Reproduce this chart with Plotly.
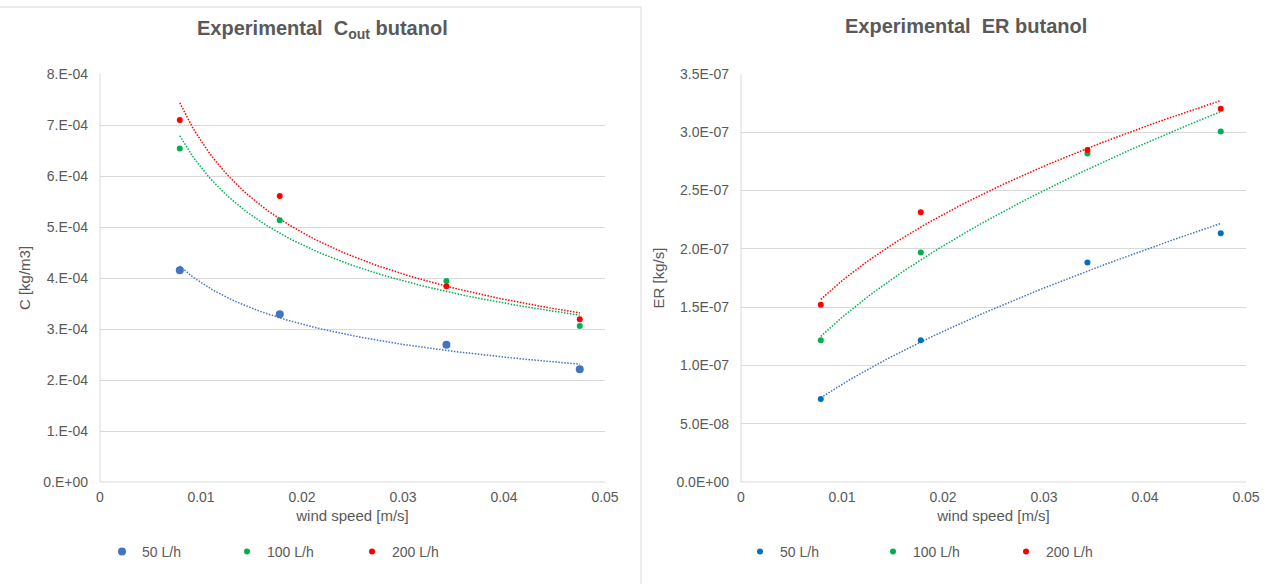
import numpy as np
import plotly.graph_objects as go

W, H = 1274, 584

wind = [0.0079, 0.0178, 0.0343, 0.0475]
series = ["50 L/h", "100 L/h", "200 L/h"]
c_50 = [4.15e-4, 3.29e-4, 2.69e-4, 2.21e-4]
c_100 = [6.54e-4, 5.13e-4, 3.94e-4, 3.06e-4]
c_200 = [7.10e-4, 5.61e-4, 3.84e-4, 3.19e-4]
er_50 = [0.713e-7, 1.216e-7, 1.884e-7, 2.134e-7]
er_100 = [1.216e-7, 1.969e-7, 2.818e-7, 3.006e-7]
er_200 = [1.520e-7, 2.315e-7, 2.849e-7, 3.202e-7]

x_ticks = [0, 0.01, 0.02, 0.03, 0.04, 0.05]
x_ticktext = ["0", "0.01", "0.02", "0.03", "0.04", "0.05"]
c_ticks = [0, 1e-4, 2e-4, 3e-4, 4e-4, 5e-4, 6e-4, 7e-4, 8e-4]
c_ticktext = ["0.E+00", "1.E-04", "2.E-04", "3.E-04", "4.E-04", "5.E-04", "6.E-04", "7.E-04", "8.E-04"]
er_ticks = [0, 0.5e-7, 1e-7, 1.5e-7, 2e-7, 2.5e-7, 3e-7, 3.5e-7]
er_ticktext = ["0.0E+00", "5.0E-08", "1.0E-07", "1.5E-07", "2.0E-07", "2.5E-07", "3.0E-07", "3.5E-07"]

FONT = "Liberation Sans, Arial, sans-serif"
GRAY = "#595959"
GRID = "#d9d9d9"

left_colors = ["#4472C4", "#00B050", "#FF0000"]
right_colors = ["#0070C0", "#00B050", "#FF0000"]
left_sizes = [8, 6, 6]
right_sizes = [6, 6, 6]
DOT = "1.5px,1.5px"


def power_fit(x, y):
    x = np.asarray(x, float)
    y = np.asarray(y, float)
    b, a = np.polyfit(np.log(x), np.log(y), 1)
    xs = np.linspace(x.min(), x.max(), 100)
    return xs, np.exp(a) * xs ** b


fig = go.Figure()

# Left chart
for name, ys, col in zip(series, [c_50, c_100, c_200], left_colors):
    xs, ys_fit = power_fit(wind, ys)
    fig.add_trace(go.Scatter(x=xs, y=ys_fit, mode="lines", line=dict(color=col, width=1.5, dash=DOT),
                             showlegend=False, hoverinfo="skip", xaxis="x", yaxis="y"))
for name, ys, col, sz in zip(series, [c_50, c_100, c_200], left_colors, left_sizes):
    fig.add_trace(go.Scatter(x=wind, y=ys, mode="markers", name=name,
                             marker=dict(color=col, size=sz), xaxis="x", yaxis="y", legend="legend"))

# Right chart
for name, ys, col in zip(series, [er_50, er_100, er_200], right_colors):
    tcol = "#4472C4" if col == "#0070C0" else col
    xs, ys_fit = power_fit(wind, ys)
    fig.add_trace(go.Scatter(x=xs, y=ys_fit, mode="lines", line=dict(color=tcol, width=1.5, dash=DOT),
                             showlegend=False, hoverinfo="skip", xaxis="x2", yaxis="y2"))
for name, ys, col, sz in zip(series, [er_50, er_100, er_200], right_colors, right_sizes):
    fig.add_trace(go.Scatter(x=wind, y=ys, mode="markers", name=name,
                             marker=dict(color=col, size=sz), xaxis="x2", yaxis="y2", legend="legend2"))


def px_x(p):
    return p / W


def px_y(p):
    return 1 - p / H


tick_font = dict(family=FONT, size=14, color=GRAY)
title_font = dict(family=FONT, size=15, color=GRAY)
xcommon = dict(showline=False, zeroline=False, ticks="", automargin=False, tickfont=tick_font,
               range=[0, 0.05], tickvals=x_ticks, ticktext=x_ticktext, showgrid=False,
               ticklabelstandoff=5)
ycommon = dict(showline=False, zeroline=False, ticks="", automargin=False, tickfont=tick_font,
               showgrid=True, gridcolor=GRID, gridwidth=1, ticklabelstandoff=11)

fig.update_layout(
    width=W, height=H,
    margin=dict(l=0, r=0, t=0, b=0, autoexpand=False),
    paper_bgcolor="white", plot_bgcolor="white",
    font=dict(family=FONT, color=GRAY),
    xaxis=dict(domain=[px_x(100), px_x(605)], anchor="y",
               title=dict(text="wind speed [m/s]", font=title_font, standoff=6), **xcommon),
    yaxis=dict(domain=[px_y(482), px_y(74)], range=[0, 8e-4], tickvals=c_ticks, ticktext=c_ticktext,
               anchor="x", title=dict(text="C [kg/m3]", font=title_font, standoff=8), **ycommon),
    xaxis2=dict(domain=[px_x(741), px_x(1246)], anchor="y2",
                title=dict(text="wind speed [m/s]", font=title_font, standoff=6), **xcommon),
    yaxis2=dict(domain=[px_y(482), px_y(74)], range=[0, 3.5e-7], tickvals=er_ticks, ticktext=er_ticktext,
                anchor="x2", title=dict(text="ER [kg/s]", font=title_font, standoff=8), **ycommon),
    legend=dict(orientation="h", x=px_x(102), xanchor="left", y=px_y(552), yanchor="middle",
                font=dict(family=FONT, size=14, color=GRAY), entrywidth=80, itemwidth=30,
                bgcolor="rgba(0,0,0,0)"),
    legend2=dict(orientation="h", x=px_x(740), xanchor="left", y=px_y(552), yanchor="middle",
                 font=dict(family=FONT, size=14, color=GRAY), entrywidth=88, itemwidth=30,
                 bgcolor="rgba(0,0,0,0)"),
    annotations=[
        dict(text="<b>Experimental&nbsp; C<sub>out</sub> butanol</b>", x=px_x(322), y=px_y(30),
             xref="paper", yref="paper", showarrow=False, font=dict(family=FONT, size=20, color=GRAY),
             xanchor="center", yanchor="middle"),
        dict(text="<b>Experimental&nbsp; ER butanol</b>", x=px_x(966), y=px_y(26), xref="paper", yref="paper",
             showarrow=False, font=dict(family=FONT, size=20, color=GRAY), xanchor="center", yanchor="middle"),
    ],
    shapes=[
        dict(type="line", xref="paper", yref="paper", x0=px_x(100), x1=px_x(100), y0=px_y(482), y1=px_y(74),
             line=dict(color=GRID, width=1)),
        dict(type="line", xref="paper", yref="paper", x0=px_x(741), x1=px_x(741), y0=px_y(482), y1=px_y(74),
             line=dict(color=GRID, width=1)),
        dict(type="line", xref="paper", yref="paper", x0=px_x(100), x1=px_x(605), y0=px_y(482), y1=px_y(482),
             line=dict(color=GRID, width=1)),
        dict(type="line", xref="paper", yref="paper", x0=px_x(741), x1=px_x(1246), y0=px_y(482), y1=px_y(482),
             line=dict(color=GRID, width=1)),
        dict(type="line", xref="paper", yref="paper", x0=0, x1=px_x(641), y0=px_y(7), y1=px_y(7),
             line=dict(color=GRID, width=1)),
        dict(type="line", xref="paper", yref="paper", x0=px_x(641), x1=px_x(641), y0=px_y(7), y1=0,
             line=dict(color=GRID, width=1)),
    ],
)

fig.write_html("out.html", config={"displayModeBar": False},
               post_script="document.body.style.margin='0';document.body.style.overflow='hidden';")
